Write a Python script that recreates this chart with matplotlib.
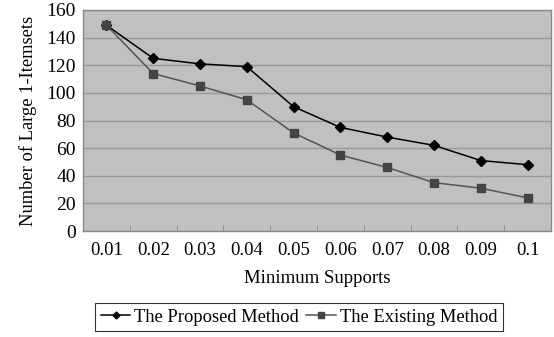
import matplotlib
matplotlib.use("Agg")
import matplotlib.pyplot as plt
import numpy as np

categories = ["0.01", "0.02", "0.03", "0.04", "0.05", "0.06", "0.07", "0.08", "0.09", "0.1"]
proposed = [149, 125, 121, 119, 90, 75, 68, 62, 51, 48]
existing = [149, 114, 105, 95, 71, 55, 46, 35, 31, 24]
yticks = [0, 20, 40, 60, 80, 100, 120, 140, 160]

plt.rcParams['font.family'] = ['Liberation Serif', 'DejaVu Serif']

fig = plt.figure(figsize=(5.54, 3.37), dpi=100)
W, H = 554, 337
ax = fig.add_axes([83 / W, 1 - 231 / H, (551 - 83) / W, (231 - 10) / H])
ax.set_facecolor('#c0c0c0')

x = np.arange(len(categories))
ax.plot(x, proposed, color='black', lw=1.1, marker='D', ms=5, label='The Proposed Method', zorder=3)
ax.plot(x, existing, color='#555555', lw=1.1, marker='s', ms=5.5, mfc='#444444', mec='#444444',
        label='The Existing Method', zorder=3)

ax.set_xlim(-0.5, len(categories) - 0.5)
ax.set_ylim(0, 160)
ax.set_yticks(yticks)
ax.set_yticklabels([str(v) for v in yticks], fontsize=14)
ax.yaxis.grid(True, color='#9a9a9a', lw=1)
ax.set_axisbelow(True)
ax.tick_params(axis='y', length=0, pad=5)

ax.set_xticks(x)
ax.set_xticklabels(categories, fontsize=13.5)
ax.tick_params(axis='x', which='major', length=0, pad=8)
ax.set_xticks(np.arange(0.5, len(categories) - 1, 1), minor=True)
ax.tick_params(axis='x', which='minor', length=4, direction='in', color='#888888')

for s in ax.spines.values():
    s.set_color('#888888')
    s.set_linewidth(1)

ax.set_xlabel('Minimum Supports', fontsize=13.5, labelpad=8)
ax.set_ylabel('Number of Large 1-Itemsets', fontsize=13.3, labelpad=7)

leg = fig.legend(loc='center', bbox_to_anchor=(299 / W, 1 - 317 / H), ncol=2, fontsize=13.3,
                 frameon=True, fancybox=False, edgecolor='black', handlelength=1.6,
                 handletextpad=0.2, columnspacing=0.4, borderpad=0.3, markerscale=0.7)
leg.get_frame().set_linewidth(0.8)

fig.savefig('out.png', dpi=100)
